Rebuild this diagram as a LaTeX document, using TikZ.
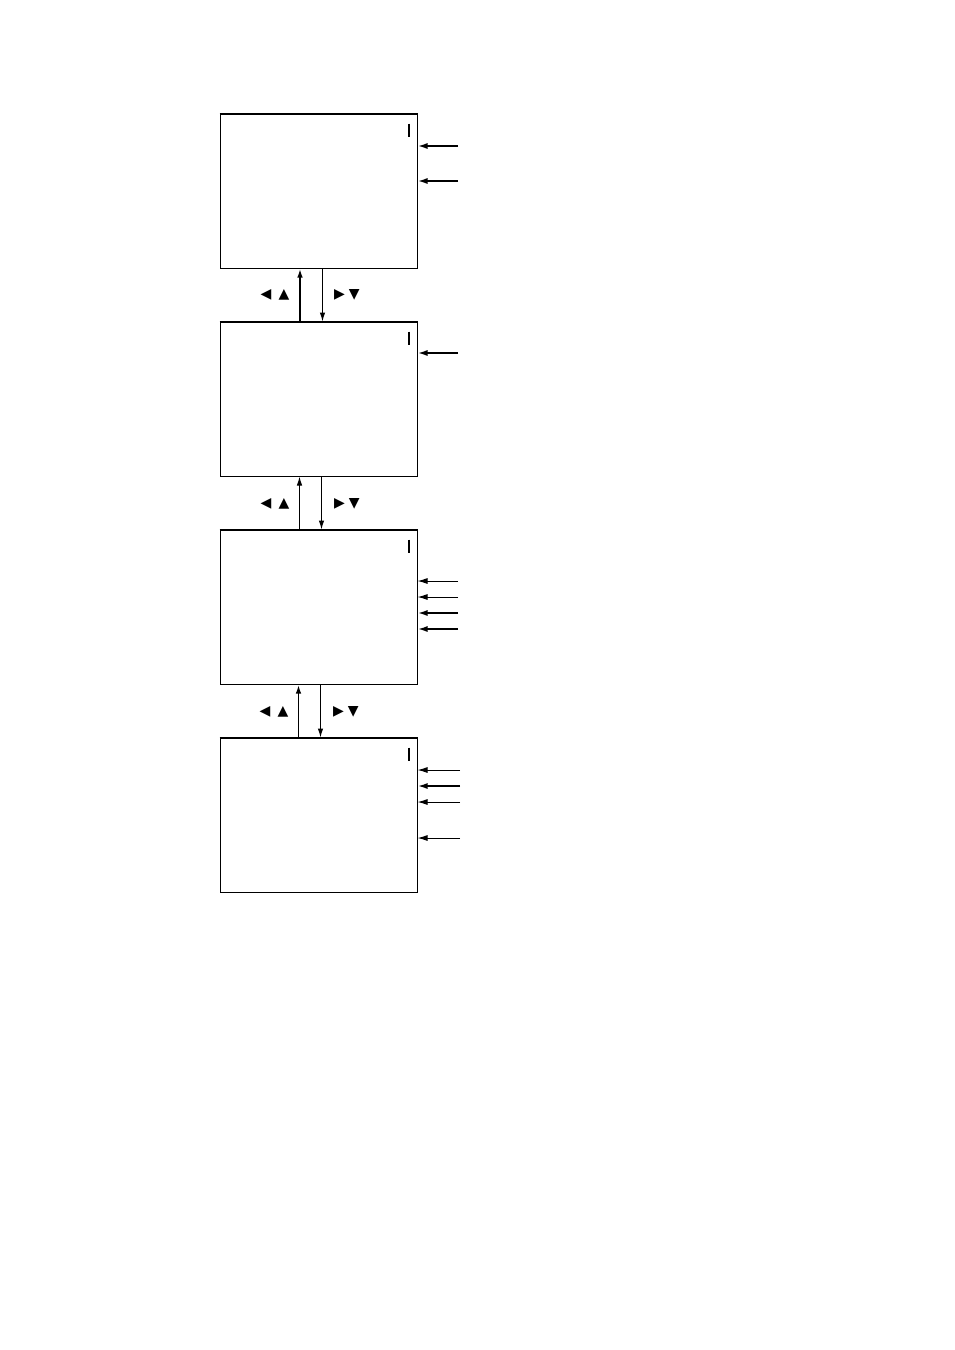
\documentclass[tikz,border=0pt]{standalone}
\usepackage{fontspec}
\newfontfamily\symfont{DejaVu Sans}
\usetikzlibrary{positioning,arrows.meta}

\begin{document}
\begin{tikzpicture}[x=1pt,y=-1pt,node distance=53pt]
\tikzset{screen/.style={draw=black,line width=1pt,minimum width=197pt,minimum height=154pt,inner sep=0pt},
  topedge/.style={line width=1.7pt},
  cursor/.style={line width=2pt},
  keyarrow/.style={-{Latex[length=9pt,width=5.5pt]},line width=1pt},
  keyarrowthick/.style={keyarrow,line width=1.9pt},
  feed/.style={-{Latex[length=10pt,width=6pt]},line width=1pt},
  feedthick/.style={feed,line width=1.9pt},
  keys/.style={font=\symfont\fontsize{14}{16}\selectfont,inner sep=0pt}}
\useasboundingbox (0,0) rectangle (954,1350);
% the four screens
\node[screen] (screen1) at (318.5,191) {};
\node[screen,below=of screen1] (screen2) {};
\node[screen,below=of screen2] (screen3) {};
\node[screen,below=of screen3] (screen4) {};
\foreach \s in {1,...,4}{
  \draw[topedge] (screen\s.north west) -- (screen\s.north east);
  \draw[cursor] ([xshift=-9pt,yshift=-10pt]screen\s.north east) -- ([xshift=-9pt,yshift=-23pt]screen\s.north east);
}
% moving between screens
\draw[keyarrowthick] ([xshift=-18.5pt]screen2.north) -- ([xshift=-18.5pt]screen1.south);
\draw[keyarrow] ([xshift=4pt]screen1.south) -- ([xshift=4pt]screen2.north);
\draw[keyarrow] ([xshift=-19pt]screen3.north) -- ([xshift=-19pt]screen2.south);
\draw[keyarrow] ([xshift=3pt]screen2.south) -- ([xshift=3pt]screen3.north);
\draw[keyarrowthick] ([xshift=-20pt]screen4.north) -- ([xshift=-20pt]screen3.south);
\draw[keyarrow] ([xshift=2pt]screen3.south) -- ([xshift=2pt]screen4.north);
\node[keys] (back1) at (275,295) {◀\hspace{7pt}▲};
\node[keys] (next1) at (347,295) {▶\hspace{4pt}▼};
\node[keys] (back2) at (275,504) {◀\hspace{7pt}▲};
\node[keys] (next2) at (347,504) {▶\hspace{4pt}▼};
\node[keys] (back3) at (274,712) {◀\hspace{7pt}▲};
\node[keys] (next3) at (346,712) {▶\hspace{4pt}▼};
% pointers to the screen lines
\coordinate (p11) at (458,146);
\coordinate (p12) at (458,181);
\coordinate (p21) at (458,353);
\coordinate (p31) at (458,581);
\coordinate (p32) at (458,597);
\coordinate (p33) at (458,613);
\coordinate (p34) at (458,629);
\coordinate (p41) at (460,770);
\coordinate (p42) at (460,786);
\coordinate (p43) at (460,802);
\coordinate (p44) at (460,838);
\draw[feedthick] (p11) -- (p11 -| screen1.east);
\draw[feedthick] (p12) -- (p12 -| screen1.east);
\draw[feedthick] (p21) -- (p21 -| screen2.east);
\draw[feed] (p31) -- (p31 -| screen3.east);
\draw[feed] (p32) -- (p32 -| screen3.east);
\draw[feedthick] (p33) -- (p33 -| screen3.east);
\draw[feedthick] (p34) -- (p34 -| screen3.east);
\draw[feed] (p41) -- (p41 -| screen4.east);
\draw[feedthick] (p42) -- (p42 -| screen4.east);
\draw[feed] (p43) -- (p43 -| screen4.east);
\draw[feed] (p44) -- (p44 -| screen4.east);
\end{tikzpicture}
\end{document}
